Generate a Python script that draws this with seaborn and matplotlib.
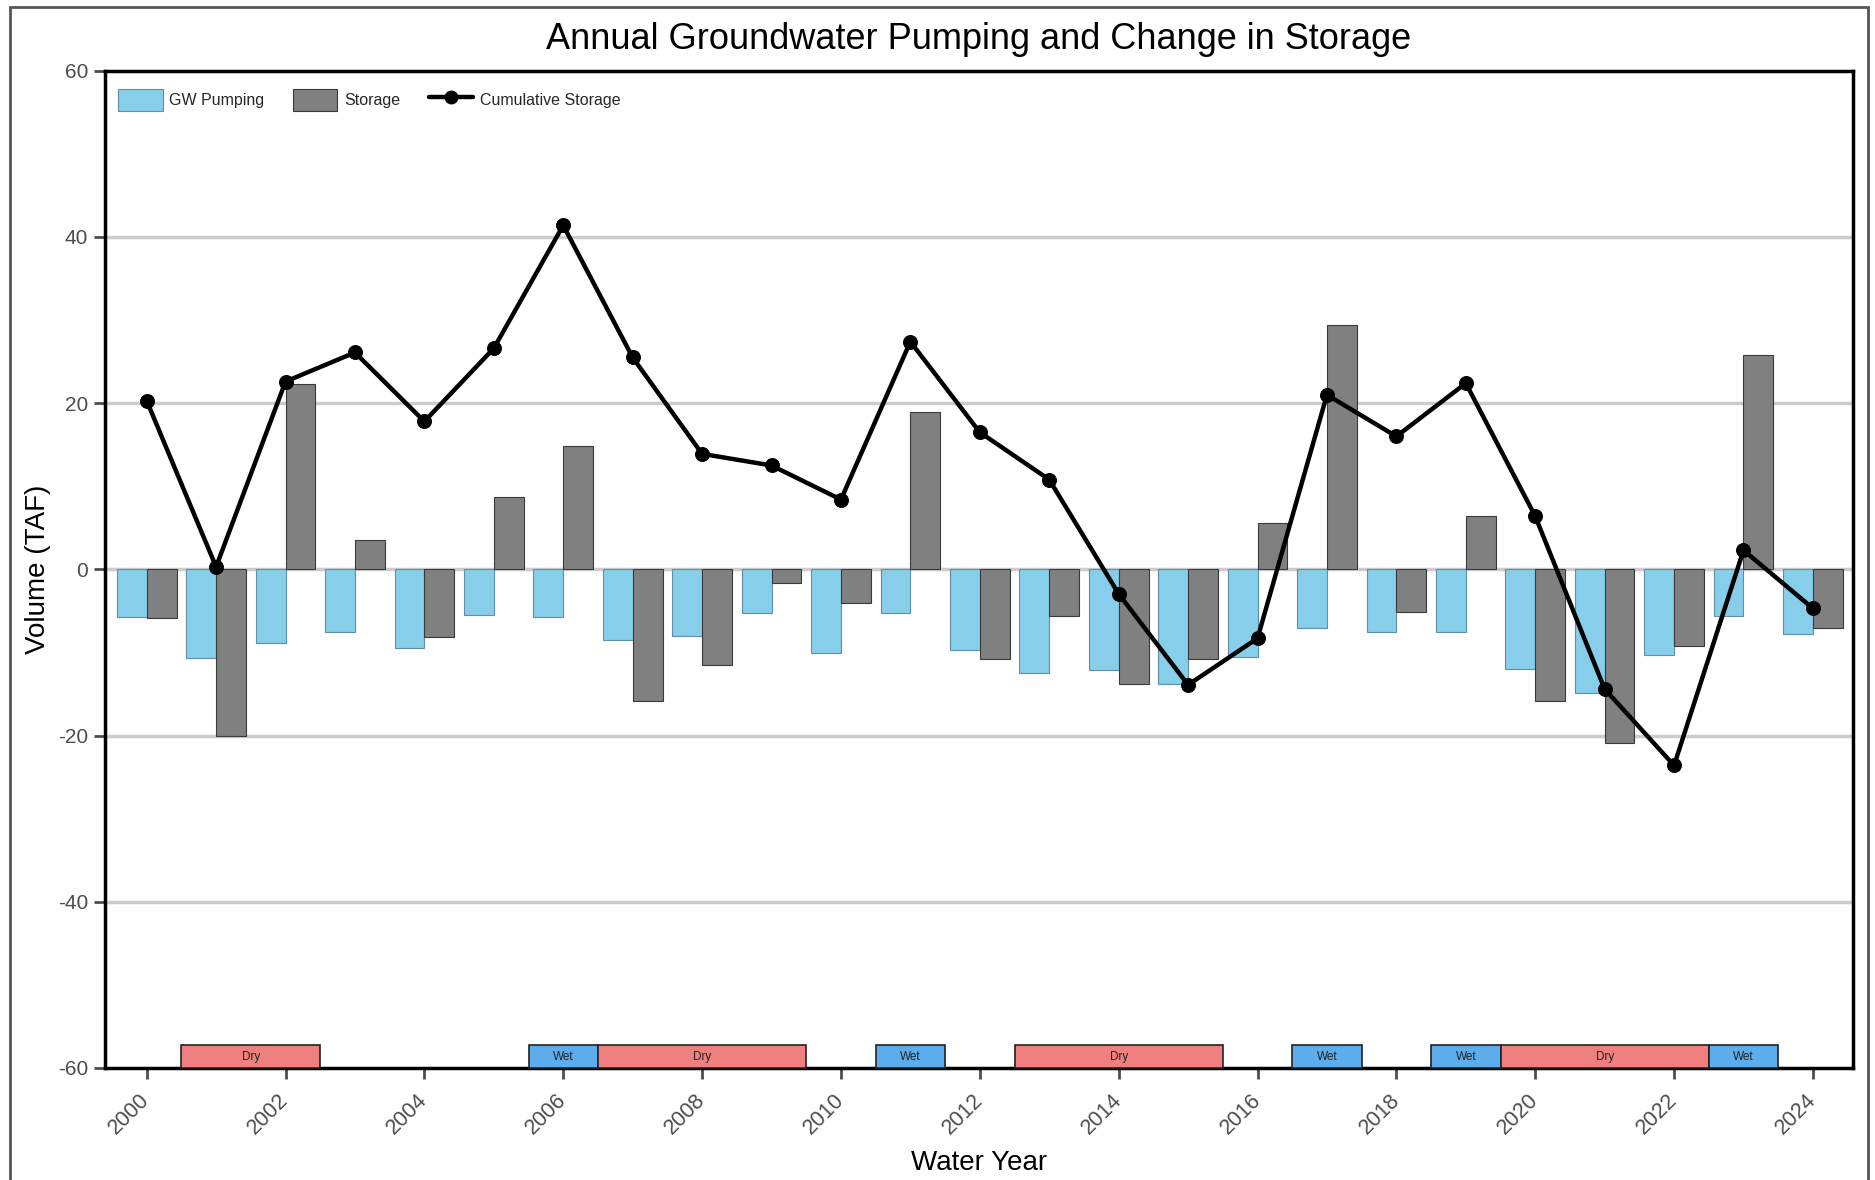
import matplotlib
matplotlib.use("Agg")
import matplotlib.pyplot as plt
import numpy as np
import pandas as pd
import seaborn as sns
from matplotlib.lines import Line2D
from matplotlib.patches import Patch, Rectangle

# --- Data (TAF) ---
years = list(range(2000, 2025))
gw_pumping = [-5.7, -10.7, -8.9, -7.5, -9.5, -5.5, -5.7, -8.5, -8.0, -5.2,
              -10.1, -5.3, -9.7, -12.5, -12.1, -13.8, -10.6, -7.0, -7.6, -7.6,
              -12.0, -14.9, -10.3, -5.6, -7.8]
storage = [-5.9, -20.0, 22.3, 3.5, -8.2, 8.7, 14.9, -15.9, -11.5, -1.6,
           -4.1, 18.9, -10.8, -5.6, -13.8, -10.8, 5.6, 29.4, -5.1, 6.4,
           -15.9, -20.9, -9.2, 25.8, -7.0]
cumulative = [20.3, 0.3, 22.6, 26.1, 17.8, 26.6, 41.4, 25.5, 13.9, 12.5,
              8.4, 27.4, 16.5, 10.8, -2.95, -13.9, -8.3, 21.0, 16.0, 22.4,
              6.4, -14.4, -23.6, 2.3, -4.7]
year_type = ["", "Dry", "Dry", "", "", "", "Wet", "Dry", "Dry", "Dry",
             "", "Wet", "", "Dry", "Dry", "Dry", "", "Wet", "", "Wet",
             "Dry", "Dry", "Dry", "Wet", ""]

# --- Colors ---
_PUMP = "#87CEEB"
_STOR = "#808080"
_DRY = "#F08080"
_WET = "#5DADEC"
_TICK = "#4d4d4d"

sns.set_theme(style="white")
plt.rcParams["font.family"] = ["Liberation Sans", "DejaVu Sans"]

df = pd.DataFrame({
    "year": years * 2,
    "value": gw_pumping + storage,
    "series": ["GW Pumping"] * len(years) + ["Storage"] * len(years),
})

fig = plt.figure(figsize=(18.75, 11.8), dpi=100)
ax = fig.add_axes([0.056, 0.095, 0.932, 0.845])

# gridlines first so bars sit on top
for g in [-40, -20, 0, 20, 40]:
    ax.axhline(g, color="#cccccc", linewidth=2.5, zorder=0)

sns.barplot(data=df, x="year", y="value", hue="series", native_scale=True,
            width=0.86, palette={"GW Pumping": _PUMP, "Storage": _STOR},
            ax=ax, legend=False, zorder=2, saturation=1)
edge_cols = ["#5f8fa8", "#3a3a3a"]
for cont, ec in zip(ax.containers, edge_cols):
    for bar in cont:
        bar.set_edgecolor(ec)
        bar.set_linewidth(0.8)

sns.lineplot(x=years, y=cumulative, color="black", linewidth=3.2, marker="o",
             markersize=10, markeredgecolor="black", ax=ax, zorder=4)

# --- Water year type boxes ---
box_h = 2.7
groups = []
for yr, t in zip(years, year_type):
    if not t:
        continue
    if groups and groups[-1][0] == t and groups[-1][2] == yr - 1:
        groups[-1][2] = yr
    else:
        groups.append([t, yr, yr])
for t, y0, y1 in groups:
    x0 = y0 - 0.5
    w = y1 - y0 + 1
    ax.add_patch(Rectangle((x0, -60), w, box_h, facecolor=_DRY if t == "Dry" else _WET,
                           edgecolor="#222222", linewidth=1.2, zorder=3, clip_on=False))
    ax.text(x0 + w / 2, -60 + box_h / 2, t, ha="center", va="center",
            fontsize=8.5, color="#222222", zorder=5)

ax.set_xlim(1999.4, 2024.57)
ax.set_ylim(-60, 60)
ax.set_xticks(years[::2])
ax.set_xticklabels([str(y) for y in years[::2]], rotation=45, ha="right", va="center",
                   rotation_mode="anchor", fontsize=15.5, color=_TICK)
ax.set_yticks([-60, -40, -20, 0, 20, 40, 60])
ax.set_yticklabels(["-60", "-40", "-20", "0", "20", "40", "60"], fontsize=15, color=_TICK)
ax.tick_params(axis="both", direction="out", length=8, width=2, color=_TICK,
               left=True, bottom=True, pad=4)
ax.tick_params(axis="x", pad=13)
for s in ax.spines.values():
    s.set_color("black")
    s.set_linewidth(2.5)
    s.set_visible(True)

ax.set_xlabel("Water Year", fontsize=20, color="black", labelpad=8)
ax.set_ylabel("Volume (TAF)", fontsize=20, color="black", labelpad=5)
ax.set_title("Annual Groundwater Pumping and Change in Storage", fontsize=26,
             color="black", pad=16)

handles = [
    Patch(facecolor=_PUMP, edgecolor="#5f8fa8", linewidth=0.8, label="GW Pumping"),
    Patch(facecolor=_STOR, edgecolor="#3a3a3a", linewidth=0.8, label="Storage"),
    Line2D([0], [0], color="black", linewidth=3.2, marker="o", markersize=9,
           label="Cumulative Storage"),
]
ax.legend(handles=handles, loc="upper left", ncol=3, frameon=False, fontsize=11.5,
          handlelength=2.8, handleheight=1.8, handletextpad=0.4, columnspacing=1.8,
          bbox_to_anchor=(0.0, 0.995), borderaxespad=0.4)

# outer border
fig.patches.append(Rectangle((0.0055, -0.02), 0.9905, 1.014, transform=fig.transFigure,
                             fill=False, edgecolor="#555555", linewidth=2, zorder=10))

fig.savefig("out.png", dpi=100)
